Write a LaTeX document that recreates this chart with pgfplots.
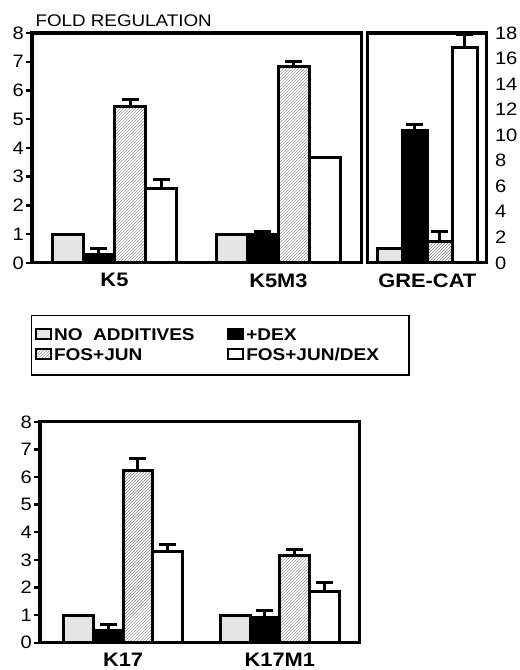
\documentclass[border=0pt]{standalone}
\usepackage{fontspec}
\setmainfont{Liberation Sans}[FakeStretch=1.12]
\usepackage{pgfplots}
\pgfplotsset{compat=1.18}
\usetikzlibrary{patterns}
\definecolor{lightfill}{gray}{0.9}
\newcommand{\tickfont}{\fontsize{18}{20}\selectfont}
\newcommand{\catfont}{\fontsize{19.5}{21}\selectfont\bfseries}
\newcommand{\legfont}{\fontsize{17}{19}\selectfont\bfseries}
\begin{document}
\begin{tikzpicture}
\path (0pt,0pt) rectangle (515pt,670pt);
\pgfplotsset{
  panel/.style={
    scale only axis, ybar=0pt, ymin=0,
    axis line style={line width=3.2pt},
    tick align=outside,
    major tick length=6pt,
    xtick style={draw=none},
    ytick style={line width=2.4pt,black},
    ticklabel style={font=\tickfont},
    yticklabel style={inner xsep=2pt},
    xticklabel style={font=\catfont, yshift=-1pt},
    /pgf/number format/assume math mode=true,
    clip=false,
  },
  legimg/.style={legend image code/.code={\draw[##1,line width=2.3pt] (0pt,-4pt) rectangle (15pt,6pt);}},
  s1/.style={draw=black, line width=3pt, fill=lightfill, legimg},
  s2/.style={draw=black, line width=3pt, fill=black, legimg},
  s3/.style={draw=black, line width=3pt, pattern=north east lines, pattern color=gray, legimg},
  s4/.style={draw=black, line width=3pt, fill=white, legimg},
  eb/.style={error bars/.cd, y dir=plus, y explicit,
    error bar style={line width=3pt,black},
    error mark options={rotate=90, line width=3pt, black, mark size=8.5pt}},
}
% top-left panel
\begin{axis}[panel, at={(32pt,407pt)}, anchor=south west,
  width=330pt, height=230pt,
  xmin=-0.503, xmax=1.509, ymax=8, bar width=0.19,
  ytick={0,1,...,8}, ytick pos=left,
  xtick={0,1}, xticklabels={K5,K5M3},
  legend columns=2,
  legend style={at={(-0.003,-0.226)}, anchor=north west, draw=black, line width=1.5pt,
    font=\legfont, inner xsep=3pt, inner ysep=11pt, row sep=2pt,
    /tikz/every even column/.append style={column sep=0pt}, cells={anchor=west}},
  legend cell align=left]
\addplot[s1] coordinates {(0,1.0) (1,1.0)};
\addplot[s2, eb] coordinates {(0,0.3) +- (0,0.2) (1,1.0) +- (0,0.1)};
\addplot[s3, eb] coordinates {(0,5.43) +- (0,0.27) (1,6.82) +- (0,0.2)};
\addplot[s4, eb] coordinates {(0,2.6) +- (0,0.3) (1,3.65) +- (0,0)};
\legend{\makebox[171pt][l]{NO\ \ ADDITIVES}, \makebox[158pt][l]{+DEX}, FOS+JUN, FOS+JUN/DEX}
\end{axis}
% top-right panel
\begin{axis}[panel, at={(368pt,407pt)}, anchor=south west,
  width=119pt, height=230pt,
  xmin=-0.5, xmax=0.5, ymax=18, bar width=0.21,
  ytick={0,2,...,18}, ytick pos=right, yticklabel pos=right,
  ytick style={draw=none},
  xtick={0}, xticklabels={GRE-CAT}]
\addplot[s1] coordinates {(0,1.1)};
\addplot[s2, eb] coordinates {(0,10.4) +- (0,0.45)};
\addplot[s3, eb] coordinates {(0,1.67) +- (0,0.8)};
\addplot[s4, eb] coordinates {(0,16.9) +- (0,0.95)};
\end{axis}
% bottom panel
\begin{axis}[panel, at={(40pt,27pt)}, anchor=south west,
  width=320pt, height=221pt,
  xmin=-0.53, xmax=1.51, ymax=8, bar width=0.19,
  ytick={0,1,...,8}, ytick pos=left,
  xtick={0,1}, xticklabels={K17,K17M1}]
\addplot[s1] coordinates {(0,1.0) (1,1.0)};
\addplot[s2, eb] coordinates {(0,0.43) +- (0,0.22) (1,0.9) +- (0,0.27)};
\addplot[s3, eb] coordinates {(0,6.24) +- (0,0.43) (1,3.15) +- (0,0.22)};
\addplot[s4, eb] coordinates {(0,3.3) +- (0,0.25) (1,1.86) +- (0,0.33)};
\end{axis}
\node[anchor=base west, font=\fontsize{16.8}{18}\selectfont] at (32pt,643pt) {FOLD REGULATION};
\end{tikzpicture}
\end{document}
